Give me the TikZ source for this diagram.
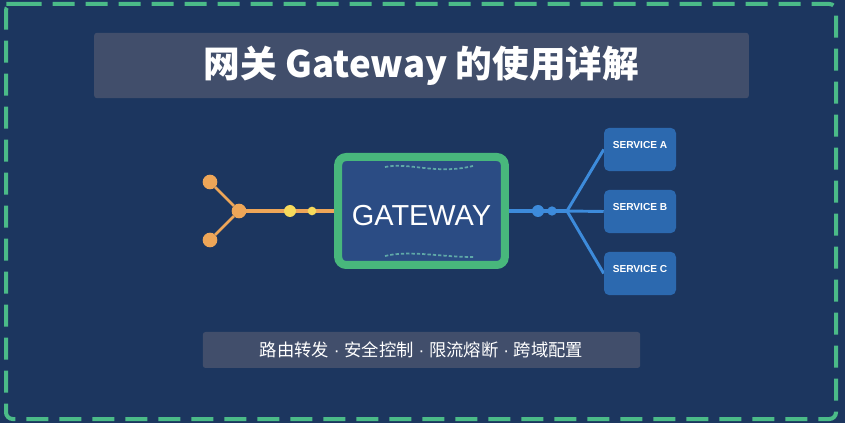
\documentclass[tikz,border=0pt]{standalone}
\usepackage{fontspec}
\setmainfont{Liberation Sans}
\newfontfamily\cjk{Noto Sans CJK SC}
\usetikzlibrary{backgrounds}
\definecolor{bgblue}{HTML}{1C365F}
\definecolor{barcolor}{HTML}{414E6B}
\definecolor{framegreen}{HTML}{4BBB88}
\definecolor{boxgreen}{HTML}{48B77C}
\definecolor{boxblue}{HTML}{2B4C84}
\definecolor{serviceblue}{HTML}{2C69AF}
\definecolor{linkblue}{HTML}{3D8BDB}
\definecolor{linkorange}{HTML}{EEA658}
\definecolor{dotyellow}{HTML}{F6DA5C}
\definecolor{wavecolor}{HTML}{5FA8A8}
\tikzset{
	bar/.style={draw=none, fill=barcolor, rectangle, rounded corners=2pt, text=white},
	servicebox/.style={fill=serviceblue, rectangle, rounded corners=4pt, minimum width=54pt, minimum height=32.5pt, text=white, inner sep=0pt, text height=1pt, text depth=2.4pt, font=\bfseries\fontsize{7.6pt}{9pt}\selectfont},
	orangedot/.style={circle, fill=linkorange, inner sep=0pt, outer sep=0pt},
	bluedot/.style={circle, fill=linkblue, inner sep=0pt, outer sep=0pt},
	yellowdot/.style={circle, fill=dotyellow, inner sep=0pt, outer sep=0pt},
	orangelink/.style={draw=linkorange, line width=2.1pt},
	bluelink/.style={draw=linkblue, line width=2.2pt},
	wave/.style={draw=wavecolor, line width=1.3pt, dash pattern=on 2.5pt off 1.5pt},
}
\begin{document}
\begin{tikzpicture}[x=0.75pt, y=-0.75pt, node distance=46.5pt]
	\node (title) at (421.5,65.5) [bar, minimum width=491pt, minimum height=49pt, font=\cjk\bfseries\fontsize{27.5pt}{32pt}\selectfont] {网关 Gateway 的使用详解};
	\node (gateway) at (421.5,211) [draw=boxgreen, line width=6pt, fill=boxblue, rectangle, rounded corners=6pt, minimum width=125pt, minimum height=81pt, text=white, text height=21.6pt, text depth=0pt, font=\fontsize{21.7pt}{26pt}\selectfont] {GATEWAY};
	\node (subtitle) at (421.5,350) [bar, minimum width=328pt, minimum height=27pt, font=\cjk\fontsize{13pt}{16pt}\selectfont] {路由转发{\rmfamily\ ·\ }安全控制{\rmfamily\ ·\ }限流熔断{\rmfamily\ ·\ }跨域配置};

	\node (servicea) at (640,149.5) [servicebox] {SERVICE A};
	\node (serviceb) [below of=servicea, servicebox] {SERVICE B};
	\node (servicec) [below of=serviceb, servicebox] {SERVICE C};

	\node (clienta) at (210,182) [orangedot, minimum size=11pt] {};
	\node (clientb) at (210,240) [orangedot, minimum size=11pt] {};
	\node (hub) at (239,211) [orangedot, minimum size=11pt] {};
	\node (dotone) at (290,211) [yellowdot, minimum size=9pt] {};
	\node (dottwo) at (312,211) [yellowdot, minimum size=6.5pt] {};
	\node (dotthree) at (538,211) [bluedot, minimum size=9pt] {};
	\node (dotfour) at (552,211) [bluedot, minimum size=7pt] {};
	\coordinate (split) at (567,211);

	\draw [wave] (385,167) .. controls (410,162) and (435,175) .. (473,166);
	\draw [wave] (385,256) .. controls (410,250) and (440,257) .. (473,257);

	\begin{scope}[on background layer]
		\fill [bgblue] (0,0) rectangle (845,423);
		\draw [framegreen, line width=3pt, dash pattern=on 16.5pt off 8.25pt, rounded corners=5pt] (13,4) -- (836,4) -- (836,419) -- (6,419) -- (6,4) -- cycle;

		\draw [orangelink] (clienta) -- (hub);
		\draw [orangelink] (clientb) -- (hub);
		\draw [orangelink, line width=3.4pt] (hub) -- (gateway);
		\draw [bluelink, line width=3pt] (gateway) -- (split);
		\draw [bluelink] (split) -- (servicea.west);
		\draw [bluelink] (split) -- (serviceb.west);
		\draw [bluelink] (split) -- (servicec.west);
	\end{scope}
\end{tikzpicture}
\end{document}
